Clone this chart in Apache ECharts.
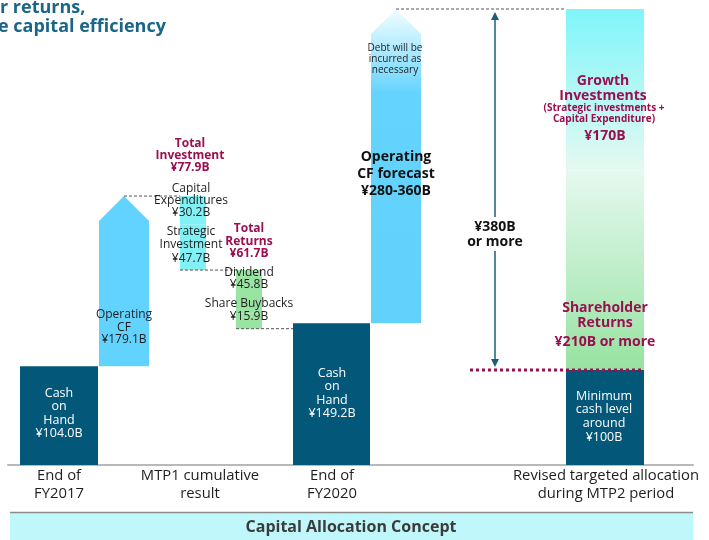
<!DOCTYPE html>
<html>
<head>
<meta charset="utf-8">
<script src="https://cdn.jsdelivr.net/npm/echarts@6/dist/echarts.min.js"></script>
<style>
  html, body { margin: 0; padding: 0; background: #fff; }
  #main { width: 709px; height: 540px; }
</style>
</head>
<body>
<div id="main"></div>
<script>
// MTP1 cumulative result, ¥B
const mtp1Items = ['Cash on Hand', 'Operating CF', 'Capital Expenditures', 'Strategic Investment', 'Dividend', 'Share Buybacks', 'Cash on Hand']
const mtp1Values = [104.0, 179.1, 30.2, 47.7, 45.8, 15.9, 149.2]
const mtp1Totals = [77.9, 61.7] // total investment, total returns
// MTP2 targeted allocation, ¥B
const mtp2Items = ['Minimum cash level', 'Shareholder Returns', 'Growth Investments']
const mtp2Values = [100, 210, 170]
const forecastRange = [280, 360]
const categories = ['End of\nFY2017', 'MTP1 cumulative\nresult', 'End of\nFY2020', 'Revised targeted allocation\nduring MTP2 period']

// layout (x axis runs in page pixels)
const cols = {
  start: [20, 98], ocf: [99, 149], invest: [180, 206], returns: [236, 262],
  end: [293, 370], forecast: [371, 421], range: 495, mtp2: [566, 644]
}
const catX = [59, 200, 332, 606]

const FONT = '"Open Sans", "Noto Sans", sans-serif'
const DARK = '#03587a'
const MAROON = '#9a0f4f'
const INK = '#1e1e1e'

const fmt = v => '¥' + v.toFixed(1) + 'B'
const sum = a => a.reduce((s, v) => s + v, 0)

const [cash0, ocf, capex, strat, div, buy, cash1] = mtp1Values
const top1 = cash0 + ocf
const afterCapex = top1 - capex
const afterInvest = afterCapex - strat
const afterDiv = afterInvest - div
const afterRet = afterDiv - buy
const m0 = mtp2Values[0]
const m1 = m0 + mtp2Values[1]
const mtp2Total = sum(mtp2Values)

const grad = (stops) => ({
  type: 'linear', x: 0, y: 0, x2: 0, y2: 1,
  colorStops: stops.map(s => ({ offset: s[0], color: s[1] }))
})

const blocks = [
  { shape: 'rect', x: cols.start, y: [0, cash0], fill: DARK },
  { shape: 'arrow', x: cols.ocf, y: [cash0, top1], fill: '#62d3fe' },
  { shape: 'rect', x: cols.invest, y: [afterCapex, top1], fill: '#82f1f6' },
  { shape: 'rect', x: cols.invest, y: [afterInvest, afterCapex], fill: '#82f1f6' },
  { shape: 'rect', x: cols.returns, y: [afterDiv, afterInvest], fill: '#99e3a3' },
  { shape: 'rect', x: cols.returns, y: [afterRet, afterDiv], fill: '#99e3a3' },
  { shape: 'rect', x: cols.end, y: [0, cash1], fill: DARK },
  { shape: 'arrow', x: cols.forecast, y: [cash1, mtp2Total],
    fill: grad([[0, '#f2feff'], [0.09, '#c4f0ff'], [0.27, '#64d3fe'], [1, '#62d2fd']]) },
  { shape: 'rect', x: cols.mtp2, y: [0, m0], fill: DARK },
  { shape: 'rect', x: cols.mtp2, y: [m0, m1], fill: grad([[0, '#e5f9f0'], [1, '#97e2a1']]) },
  { shape: 'rect', x: cols.mtp2, y: [m1, mtp2Total], fill: grad([[0, '#7ff5fa'], [1, '#e5f9f0']]) }
]

const ocfMid = (cols.ocf[0] + cols.ocf[1]) / 2
const fcMid = (cols.forecast[0] + cols.forecast[1]) / 2
const connectors = [
  { x: [ocfMid, cols.invest[0]], v: top1, kind: 'dash' },
  { x: [cols.invest[0], cols.returns[0]], v: afterInvest, kind: 'dash' },
  { x: [cols.returns[0], cols.end[0]], v: afterRet, kind: 'dash' },
  { x: [fcMid, cols.mtp2[0]], v: mtp2Total, kind: 'dash' },
  { x: [470, cols.mtp2[1]], v: m0, kind: 'dot' }
]

function renderBlock (params, api) {
  const b = blocks[params.dataIndex]
  const p0 = api.coord([b.x[0], b.y[0]])
  const p1 = api.coord([b.x[1], b.y[1]])
  const x0 = p0[0], x1 = p1[0], yb = p0[1], yt = p1[1]
  if (b.shape === 'arrow') {
    const head = 25
    return {
      type: 'polygon',
      shape: { points: [[x0, yb], [x0, yt + head], [(x0 + x1) / 2, yt], [x1, yt + head], [x1, yb]] },
      style: { fill: b.fill }
    }
  }
  return { type: 'rect', shape: { x: x0, y: yt, width: x1 - x0, height: yb - yt }, style: { fill: b.fill } }
}

function renderConnector (params, api) {
  const c = connectors[params.dataIndex]
  const a = api.coord([c.x[0], c.v])
  const b = api.coord([c.x[1], c.v])
  const dot = c.kind === 'dot'
  return {
    type: 'line',
    shape: { x1: a[0], y1: a[1], x2: b[0], y2: b[1] },
    style: dot
      ? { stroke: MAROON, lineWidth: 3, lineDash: [3, 3] }
      : { stroke: '#555', lineWidth: 1, lineDash: [3, 2] }
  }
}

// double-headed range arrow, broken where its label sits
function renderRange (params, api) {
  const top = api.coord([cols.range, mtp2Total])
  const bot = api.coord([cols.range, m0])
  const x = top[0], yt = top[1] + 3, yb = bot[1] - 3
  const gap = [217, 251]
  const c = '#1c5e79'
  return {
    type: 'group',
    children: [
      { type: 'line', shape: { x1: x, y1: yt + 6, x2: x, y2: gap[0] }, style: { stroke: c, lineWidth: 1.5 } },
      { type: 'line', shape: { x1: x, y1: gap[1], x2: x, y2: yb - 6 }, style: { stroke: c, lineWidth: 1.5 } },
      { type: 'polygon', shape: { points: [[x, yt], [x - 4, yt + 8], [x + 4, yt + 8]] }, style: { fill: c } },
      { type: 'polygon', shape: { points: [[x, yb], [x - 4, yb - 8], [x + 4, yb - 8]] }, style: { fill: c } }
    ]
  }
}

function txt (x, y, text, o) {
  o = o || {}
  return {
    type: 'text', x: x, y: y, z: 10,
    style: {
      text: text, fill: o.color || INK, font: (o.weight || 'normal') + ' ' + (o.size || 12) + 'px ' + FONT,
      lineHeight: o.lh || 13, align: o.align || 'center', verticalAlign: 'middle'
    }
  }
}

const labels = [
  txt(0, 8, 'r returns,', { align: 'left', size: 18, weight: 'bold', color: '#1b6688', lh: 20 }),
  txt(-2, 27, 'e capital efficiency', { align: 'left', size: 18, weight: 'bold', color: '#1b6688', lh: 20 }),

  txt(59, 413.5, 'Cash\non\nHand\n' + fmt(cash0), { color: '#fff', size: 12.5, lh: 13.6 }),
  txt(124, 327.5, 'Operating\nCF\n' + fmt(ocf), { lh: 12.5 }),
  txt(190, 156, 'Total\nInvestment\n' + fmt(mtp1Totals[0]), { color: MAROON, weight: 'bold', lh: 12 }),
  txt(191, 201, 'Capital\nExpenditures\n' + fmt(capex), { lh: 12 }),
  txt(191, 245, 'Strategic\nInvestment\n' + fmt(strat), { lh: 13.5 }),
  txt(249, 241.5, 'Total\nReturns\n' + fmt(mtp1Totals[1]), { color: MAROON, weight: 'bold', lh: 12.5 }),
  txt(249, 279, 'Dividend\n' + fmt(div), { lh: 12 }),
  txt(249, 310.5, 'Share Buybacks\n' + fmt(buy), { lh: 13 }),
  txt(332, 393.5, 'Cash\non\nHand\n' + fmt(cash1), { color: '#fff', size: 12.5, lh: 13.6 }),

  txt(395, 59, 'Debt will be\nincurred as\nnecessary', { size: 10, lh: 11 }),
  txt(396, 174, 'Operating\nCF forecast\n¥' + forecastRange[0] + '-' + forecastRange[1] + 'B', { size: 14, weight: 'bold', lh: 17, color: '#111' }),
  txt(495, 234.5, '¥' + (mtp2Total - m0) + 'B\nor more', { size: 14, weight: 'bold', lh: 15, color: '#111' }),

  txt(603, 88.5, mtp2Items[2].replace(' ', '\n'), { size: 14, weight: 'bold', lh: 15, color: MAROON }),
  txt(604, 113.5, '(Strategic investments +\nCapital Expenditure)', { size: 10, weight: 'bold', lh: 11, color: MAROON }),
  txt(605, 136, '¥' + mtp2Values[2] + 'B', { size: 14, weight: 'bold', color: MAROON }),
  txt(605, 315.5, mtp2Items[1].replace(' ', '\n'), { size: 14, weight: 'bold', lh: 15, color: MAROON }),
  txt(605, 342, '¥' + mtp2Values[1] + 'B or more', { size: 14, weight: 'bold', color: MAROON }),
  txt(604, 416.5, 'Minimum\ncash level\naround\n¥' + m0 + 'B', { color: '#fff', size: 12.5, lh: 13.7 })
].concat(categories.map((c, i) => txt(catX[i], 485, c, { size: 14.8, lh: 18 })))

const banner = [
  { type: 'rect', shape: { x: 10, y: 512, width: 683, height: 28 }, style: { fill: '#c0f7fb' }, z: 5 },
  { type: 'line', shape: { x1: 10, y1: 512.5, x2: 693, y2: 512.5 }, style: { stroke: '#8a8a8a', lineWidth: 1.5 }, z: 6 },
  txt(351, 527, 'Capital Allocation Concept', { size: 16, weight: 'bold', color: '#3b3b3b' })
]

const option = {
  backgroundColor: '#fff',
  animation: false,
  grid: { left: 8, right: 16, top: 9, bottom: 75 },
  xAxis: {
    type: 'value', min: 8, max: 693,
    axisLine: { show: true, lineStyle: { color: '#b9b9b9', width: 2 } },
    axisTick: { show: false }, axisLabel: { show: false }, splitLine: { show: false }
  },
  yAxis: { type: 'value', min: 0, max: mtp2Total, show: false, splitLine: { show: false } },
  series: [
    {
      type: 'custom', name: 'blocks', renderItem: renderBlock, silent: true, z: 2,
      data: blocks.map(b => [b.x[0], b.y[0], b.x[1], b.y[1]])
    },
    {
      type: 'custom', name: 'connectors', renderItem: renderConnector, silent: true, z: 3,
      data: connectors.map(c => [c.x[0], c.v, c.x[1], c.v])
    },
    {
      type: 'custom', name: 'range', renderItem: renderRange, silent: true, z: 3,
      data: [[cols.range, m0, cols.range, mtp2Total]]
    }
  ],
  graphic: labels.concat(banner)
}

const myChart = echarts.init(document.getElementById('main'))
myChart.setOption(option)
</script>
</body>
</html>
